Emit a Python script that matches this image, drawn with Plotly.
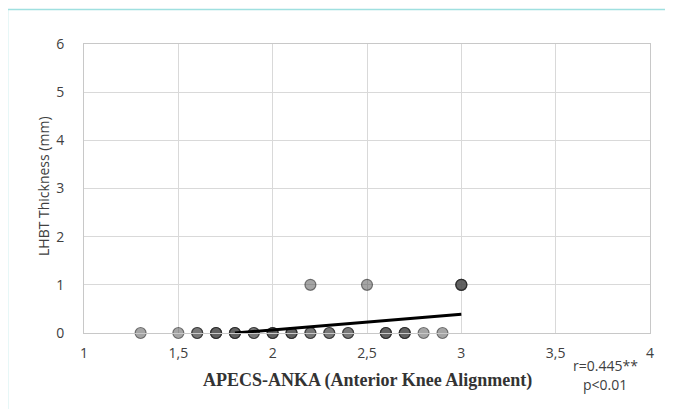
import numpy as np
import plotly.graph_objects as go

# Data
pt_x = [1.3, 1.5, 1.6, 1.7, 1.8, 1.9, 2.0, 2.1, 2.2, 2.3, 2.4, 2.6, 2.7, 2.8, 2.9, 2.2, 2.5, 3.0]
pt_y = [0, 0, 0, 0, 0, 0, 0, 0, 0, 0, 0, 0, 0, 0, 0, 1, 1, 1]
pt_n = [1, 1, 2, 3, 3, 2, 3, 3, 2, 2, 2, 3, 3, 1, 1, 1, 1, 3]  # overlapping cases

trend_x = [1.8, 3.0]
trend_y = [0.0, 0.39]

x_ticks = [1, 1.5, 2, 2.5, 3, 3.5, 4]
x_tick_labels = ["1", "1,5", "2", "2,5", "3", "3,5", "4"]
y_ticks = [0, 1, 2, 3, 4, 5, 6]

x_title = "APECS-ANKA (Anterior Knee Alignment)"
y_title = "LHBT Thickness (mm)"
stat_text = ["r=0.445**", "p<0.01"]

xs = np.repeat(pt_x, pt_n)
ys = np.repeat(pt_y, pt_n)

# page body has an ~8px margin; compensate so plot area lands at x 84..650, y 44..333
OFF = 8
L, R, T, B = 84, 650, 44, 333
W, H = 673 - OFF, 409 - OFF
PW, PH = R - L, B - T


def px(x):
    return (x - L) / PW


def py(y):
    return (B - y) / PH


fig = go.Figure()
fig.add_trace(go.Scatter(
    x=xs, y=ys, mode="markers",
    marker=dict(size=11, color="rgba(75,75,75,0.5)",
                line=dict(color="rgba(30,30,30,0.55)", width=1.2)),
    hoverinfo="skip", showlegend=False, cliponaxis=False,
))
fig.add_trace(go.Scatter(
    x=trend_x, y=trend_y, mode="lines",
    line=dict(color="black", width=3),
    showlegend=False,
))

tick_font = dict(family="Open Sans, Liberation Sans, sans-serif", size=14, color="#404040")

fig.update_layout(
    width=W, height=H,
    margin=dict(l=L - OFF, r=OFF + W - R, t=T - OFF, b=OFF + H - B, pad=0),
    paper_bgcolor="white", plot_bgcolor="white",
    xaxis=dict(range=[1, 4], tickvals=x_ticks, ticktext=x_tick_labels,
               showgrid=True, gridcolor="#d9d9d9", gridwidth=1,
               zeroline=False, showline=True, linecolor="#c8c8c8", mirror=True,
               ticks="", tickfont=tick_font, ticklabelstandoff=7),
    yaxis=dict(range=[0, 6], tickvals=y_ticks,
               showgrid=True, gridcolor="#d9d9d9", gridwidth=1,
               zeroline=False, showline=True, linecolor="#c8c8c8", mirror=True,
               ticks="", tickfont=tick_font, ticklabelstandoff=16),
    shapes=[dict(type="rect", xref="paper", yref="paper",
                 x0=px(7.5), x1=px(700), y0=py(430), y1=py(9.5),
                 line=dict(color="#9fe0e0", width=1.5), fillcolor="rgba(0,0,0,0)", layer="below")],
    annotations=[
        dict(text=y_title, xref="paper", yref="paper", textangle=-90,
             x=px(43), y=py(186), showarrow=False,
             font=dict(family="Open Sans, Liberation Sans, sans-serif", size=14, color="#404040"),
             xanchor="center", yanchor="middle"),
        dict(text="<b>" + x_title + "</b>", xref="paper", yref="paper",
             x=px(367), y=py(381), showarrow=False,
             font=dict(family="Liberation Serif, serif", size=18, color="#333333"),
             xanchor="center", yanchor="middle"),
        dict(text=stat_text[0], xref="paper", yref="paper",
             x=px(605), y=py(365), showarrow=False,
             font=dict(family="Open Sans, Liberation Sans, sans-serif", size=14, color="#404040"),
             xanchor="center", yanchor="middle"),
        dict(text=stat_text[1], xref="paper", yref="paper",
             x=px(605), y=py(384), showarrow=False,
             font=dict(family="Open Sans, Liberation Sans, sans-serif", size=14, color="#404040"),
             xanchor="center", yanchor="middle"),
    ],
)

fig.write_html("out.html")
